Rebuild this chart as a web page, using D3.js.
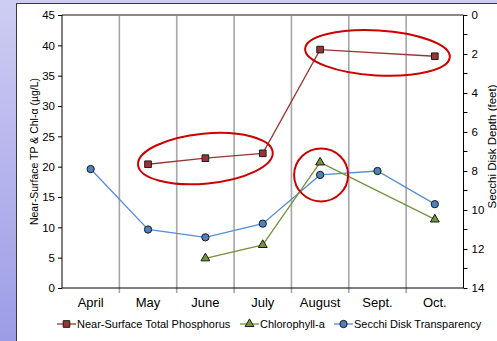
<!DOCTYPE html>
<html><head><meta charset="utf-8">
<script src="https://cdn.jsdelivr.net/npm/d3@7"></script>
<style>body{margin:0;padding:0;overflow:hidden;} svg{display:block;font-family:"Liberation Sans",Arial,sans-serif;}</style>
</head><body>
<svg id="c" width="497" height="341"></svg>
<script>
const categories = ["April","May","June","July","August","Sept.","Oct."];
const phosphorus = [null,20.4,21.4,22.2,39.3,null,38.2];
const chlorophyll = [null,null,4.9,7.1,20.7,null,11.3];
const secchi = [7.9,11.0,11.4,10.7,8.2,8.0,9.7];
const leftTicks = [0,5,10,15,20,25,30,35,40,45];
const rightTicks = [0,2,4,6,8,10,12,14];
const seriesNames = ["Near-Surface Total Phosphorus","Chlorophyll-a","Secchi Disk Transparency"];
const leftTitle = "Near-Surface TP & Chl-\u03b1 (\u00b5g/L)";
const rightTitle = "Secchi Disk Depth (feet)";

const svg = d3.select("#c");
const defs = svg.append("defs");
const grad = defs.append("linearGradient").attr("id","bg").attr("x1",0).attr("y1",0).attr("x2",0).attr("y2",1);
grad.append("stop").attr("offset","0%").attr("stop-color","#cdcdf4");
grad.append("stop").attr("offset","100%").attr("stop-color","#9c9ce6");
svg.append("rect").attr("width",497).attr("height",341).attr("fill","url(#bg)");
svg.append("rect").attr("x",16.5).attr("y",3.5).attr("width",500).attr("height",360).attr("fill","#fff").attr("stroke","#3a3a3a").attr("stroke-width",1);

const L = 62, R = 463.5, T = 15, B = 288;
const x = d3.scaleBand().domain(categories).range([L,R]);
const yL = d3.scaleLinear().domain([0,45]).range([B,T]);
const yR = d3.scaleLinear().domain([0,14]).range([T,B]);
const cx = c => x(c) + x.bandwidth()/2;

// vertical gridlines at category boundaries (extending as ticks)
svg.append("g").selectAll("line").data(categories.slice(1)).join("line")
  .attr("x1",d=>x(d)).attr("x2",d=>x(d)).attr("y1",T).attr("y2",B+5)
  .attr("stroke","#a6a6a6").attr("stroke-width",1.6);
// top border
svg.append("line").attr("x1",L).attr("x2",R).attr("y1",T).attr("y2",T).attr("stroke","#888").attr("stroke-width",1.8);

// left axis
const gl = svg.append("g").attr("transform",`translate(${L},0)`)
  .call(d3.axisLeft(yL).tickValues(leftTicks).tickSize(4).tickPadding(3).tickFormat(d3.format("d")));
gl.select(".domain").attr("stroke","#000").attr("d",`M0,${T}V${B}`);
gl.selectAll("text").attr("font-size",11.5).attr("fill","#000").attr("font-family","Liberation Sans, Arial");
// right axis
const gr = svg.append("g").attr("transform",`translate(${R},0)`)
  .call(d3.axisRight(yR).tickValues(rightTicks).tickSize(4).tickPadding(4).tickFormat(d3.format("d")));
gr.select(".domain").attr("stroke","#000").attr("d",`M0,${T}V${B}`);
gr.selectAll("text").attr("font-size",11.5).attr("fill","#000").attr("font-family","Liberation Sans, Arial");
gr.append("g").selectAll("line").data(d3.range(1,14,2)).join("line")
  .attr("x1",0).attr("x2",4).attr("y1",d=>yR(d)).attr("y2",d=>yR(d)).attr("stroke","#000");
// bottom axis
svg.append("line").attr("x1",L).attr("x2",R).attr("y1",B).attr("y2",B).attr("stroke","#000");
svg.append("g").selectAll("text").data(categories).join("text")
  .attr("x",d=>cx(d)).attr("y",B+19).attr("text-anchor","middle").attr("font-size",13).text(d=>d);

// titles
svg.append("text").attr("transform",`translate(38,${(T+B)/2}) rotate(-90)`).attr("text-anchor","middle")
  .attr("font-size",10.5).text(leftTitle);
svg.append("text").attr("transform",`translate(495.5,${(T+B)/2 - 5}) rotate(-90)`).attr("text-anchor","middle")
  .attr("font-size",11.5).text(rightTitle);

// series
const mk = (vals, scale) => categories.map((c,i)=>({c, v:vals[i]})).filter(d=>d.v!==null).map(d=>[cx(d.c), scale(d.v)]);
const pTP = mk(phosphorus,yL), pCH = mk(chlorophyll,yL), pSD = mk(secchi,yR);
const line = d3.line();
const cols = {tp:"#953735", ch:"#77933c", sd:"#558ed5"};

// annotations (ellipses), derived from points
function ellipse(pts, padX, ry){
  const mx = d3.mean(pts,p=>p[0]), my = d3.mean(pts,p=>p[1]);
  const a = pts[0], b = pts[pts.length-1];
  const ang = Math.atan2(b[1]-a[1], b[0]-a[0])*180/Math.PI;
  const rx = Math.hypot(b[0]-a[0], b[1]-a[1])/2 + padX;
  svg.append("ellipse").attr("transform",`translate(${mx},${my}) rotate(${ang})`)
    .attr("rx",rx).attr("ry",ry).attr("fill","none").attr("stroke","#cc0000").attr("stroke-width",2);
}

svg.append("path").attr("d",line(pSD)).attr("fill","none").attr("stroke",cols.sd).attr("stroke-width",1.3);
svg.append("path").attr("d",line(pCH)).attr("fill","none").attr("stroke",cols.ch).attr("stroke-width",1.3);
svg.append("path").attr("d",line(pTP)).attr("fill","none").attr("stroke",cols.tp).attr("stroke-width",1.3);

ellipse(pTP.slice(0,3), 10, 25);
ellipse(pTP.slice(3,5), 15, 22.5);
{ const p = pSD[4]; svg.append("ellipse").attr("cx",p[0]+1).attr("cy",p[1]).attr("rx",27).attr("ry",26.5)
  .attr("fill","none").attr("stroke","#cc0000").attr("stroke-width",2); }

const sym = {
  sq: d3.symbol(d3.symbolSquare, 44)(),
  tri: d3.symbol(d3.symbolTriangle, 34)(),
  ci: d3.symbol(d3.symbolCircle, 42)()
};
function markers(pts, s, fill){
  svg.append("g").selectAll("path").data(pts).join("path")
    .attr("transform",p=>`translate(${p[0]},${p[1]})`).attr("d",s)
    .attr("fill",fill).attr("stroke","#1a1a1a").attr("stroke-width",1);
}
markers(pSD, sym.ci, "#4f81bd");
markers(pCH, sym.tri, "#77933c");
markers(pTP, sym.sq, "#953735");

// legend
const leg = [
  {name:seriesNames[0], x:57, col:cols.tp, s:sym.sq, f:"#953735"},
  {name:seriesNames[1], x:240, col:cols.ch, s:sym.tri, f:"#77933c"},
  {name:seriesNames[2], x:334, col:cols.sd, s:sym.ci, f:"#4f81bd"}
];
const lg = svg.append("g").selectAll("g").data(leg).join("g").attr("transform",d=>`translate(${d.x},324)`);
lg.append("line").attr("x1",0).attr("x2",19).attr("stroke",d=>d.col).attr("stroke-width",1.3);
lg.append("path").attr("transform","translate(9.5,0)").attr("d",d=>d.s).attr("fill",d=>d.f).attr("stroke","#1a1a1a");
lg.append("text").attr("x",20).attr("y",4).attr("font-size",11).text(d=>d.name);
</script>
</body></html>
